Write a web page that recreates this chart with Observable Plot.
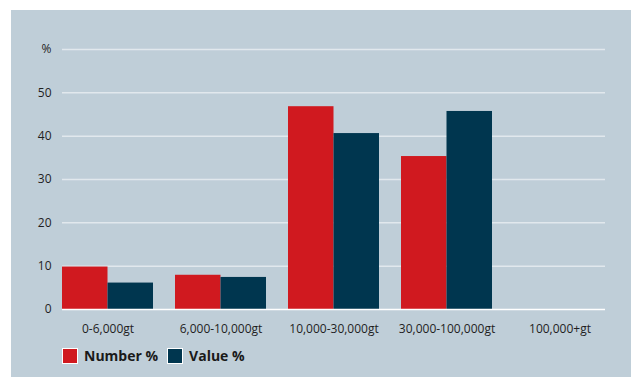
<!DOCTYPE html>
<html>
<head>
<meta charset="utf-8">
<script src="https://cdn.jsdelivr.net/npm/d3@7"></script>
<script src="https://cdn.jsdelivr.net/npm/@observablehq/plot@0.6"></script>
<style>
  html, body { margin: 0; padding: 0; background: #ffffff; }
  #panel {
    position: absolute; left: 11px; top: 10px; width: 620px; height: 367px;
    background: #bfced8; font-family: "Open Sans", sans-serif;
  }
  #legend { position: absolute; left: 51px; top: 336px; display: flex; align-items: center;
    font-family: "Open Sans", sans-serif; font-weight: bold; font-size: 14px; color: #1a1a1a; }
  .sw { width: 14px; height: 14px; border: 1px solid #ffffff; display: inline-block; }
  .item { display: flex; align-items: center; gap: 6px; margin-right: 9px; }
</style>
</head>
<body>
<div id="panel">
  <div id="chart"></div>
  <div id="legend"></div>
</div>
<script>
const groups = ["0-6,000gt", "6,000-10,000gt", "10,000-30,000gt", "30,000-100,000gt", "100,000+gt"];
const series = ["Number %", "Value %"];
const numberPct = [9.8, 7.9, 46.8, 35.3, 0];
const valuePct = [6.1, 7.4, 40.6, 45.7, 0];
const yTicks = [0, 10, 20, 30, 40, 50, 60];
const colors = ["#d0191f", "#00364f"];

const numberData = groups.map((g, i) => ({group: g, series: series[0], value: numberPct[i]}));
const valueData = groups.map((g, i) => ({group: g, series: series[1], value: valuePct[i]}));

function make(half) {
  return Plot.plot({
    width: 620,
    height: 329,
    marginLeft: 51,
    marginRight: 26,
    marginTop: 39,
    marginBottom: 30,
    style: {background: "transparent", fontFamily: "Open Sans, sans-serif", fontSize: "12px", color: "#1f1f1f"},
    x: {domain: groups, paddingInner: 0.195, paddingOuter: 0, label: null},
    y: {domain: [0, 60], label: null},
    color: {domain: series, range: colors},
    marks: [
      Plot.gridY(yTicks.filter(d => d > 0), {stroke: "#e1e8ed", strokeOpacity: 1, strokeWidth: 1.5}),
      Plot.barY(numberData, {x: "group", y: "value", fill: "series", insetRight: half}),
      Plot.barY(valueData, {x: "group", y: "value", fill: "series", insetLeft: half}),
      Plot.ruleY([0], {stroke: "#ffffff", strokeWidth: 1.5}),
      Plot.axisY({ticks: yTicks, tickSize: 0, tickPadding: 11, label: null,
        tickFormat: d => d === 60 ? "%" : String(d)}),
      Plot.axisX({tickSize: 0, tickPadding: 15, label: null})
    ]
  });
}
const probe = make(0);
const half = probe.scale("x").bandwidth / 2;
const chart = make(half);
document.getElementById("chart").appendChild(chart);

const legend = document.getElementById("legend");
series.forEach((s, i) => {
  const item = document.createElement("div");
  item.className = "item";
  const sw = document.createElement("span");
  sw.className = "sw";
  sw.style.background = colors[i];
  const t = document.createElement("span");
  t.textContent = s;
  item.appendChild(sw);
  item.appendChild(t);
  legend.appendChild(item);
});
</script>
</body>
</html>
